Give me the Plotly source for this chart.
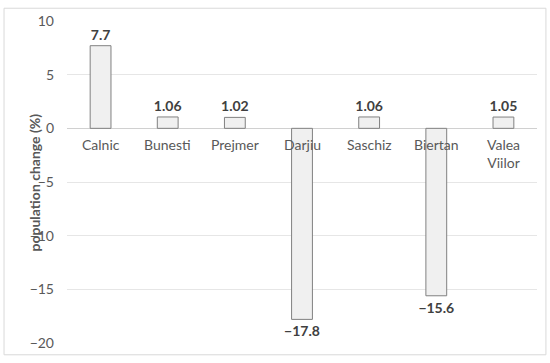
import plotly.graph_objects as go

categories = ["Calnic", "Bunesti", "Prejmer", "Darjiu", "Saschiz", "Biertan", "Valea<br>Viilor"]
values = [7.7, 1.06, 1.02, -17.8, 1.06, -15.6, 1.05]
label_texts = ["7.7", "1.06", "1.02", "\u221217.8", "1.06", "\u221215.6", "1.05"]
y_ticks = [10, 5, 0, -5, -10, -15, -20]
y_tick_labels = ["10", "5", "0", "\u22125", "\u221210", "\u221215", "\u221220"]

FONT = "Lato, Open Sans, sans-serif"
TXT = "#595959"

fig = go.Figure()
fig.add_trace(go.Bar(
    x=list(range(len(categories))), y=values,
    width=0.31,
    marker=dict(color="#f0f0f0", line=dict(color="#808080", width=1)),
    text=label_texts, textposition="outside", constraintext="none",
    textfont=dict(family=FONT, size=14, color="#404040", weight="bold"),
    cliponaxis=False,
))

for i, c in enumerate(categories):
    fig.add_annotation(x=i, y=0, xref="x", yref="y", text=c, showarrow=False,
                       yanchor="top", yshift=-6,
                       font=dict(family=FONT, size=14, color=TXT))

fig.add_annotation(xref="paper", yref="paper", x=-0.0915, y=0.5,
                   text="population change (%)", textangle=-90, showarrow=False,
                   font=dict(family=FONT, size=14, color=TXT, weight="bold"))

fig.add_shape(type="rect", xref="paper", yref="paper",
              x0=-0.134, x1=1.019, y0=-0.0366, y1=1.0396,
              line=dict(color="#d9d9d9", width=1), fillcolor="rgba(0,0,0,0)", layer="below")

fig.update_layout(
    width=550, height=363,
    margin=dict(l=67, r=13, t=18, b=17),
    paper_bgcolor="white", plot_bgcolor="white",
    showlegend=False,
    xaxis=dict(range=[-0.5, 6.5], showticklabels=False, showgrid=False, zeroline=False, showline=False),
    yaxis=dict(range=[-20, 10], tickvals=y_ticks, ticktext=y_tick_labels,
               showgrid=True, gridcolor="#e6e6e6", gridwidth=1,
               zeroline=True, zerolinecolor="#d0d0d0", zerolinewidth=1,
               showline=False, ticklabelstandoff=12,
               tickfont=dict(family=FONT, size=14, color=TXT)),
)

fig.write_html("out.html", config={"displayModeBar": False},
               post_script="document.body.style.margin='0';document.body.style.overflow='hidden';")
